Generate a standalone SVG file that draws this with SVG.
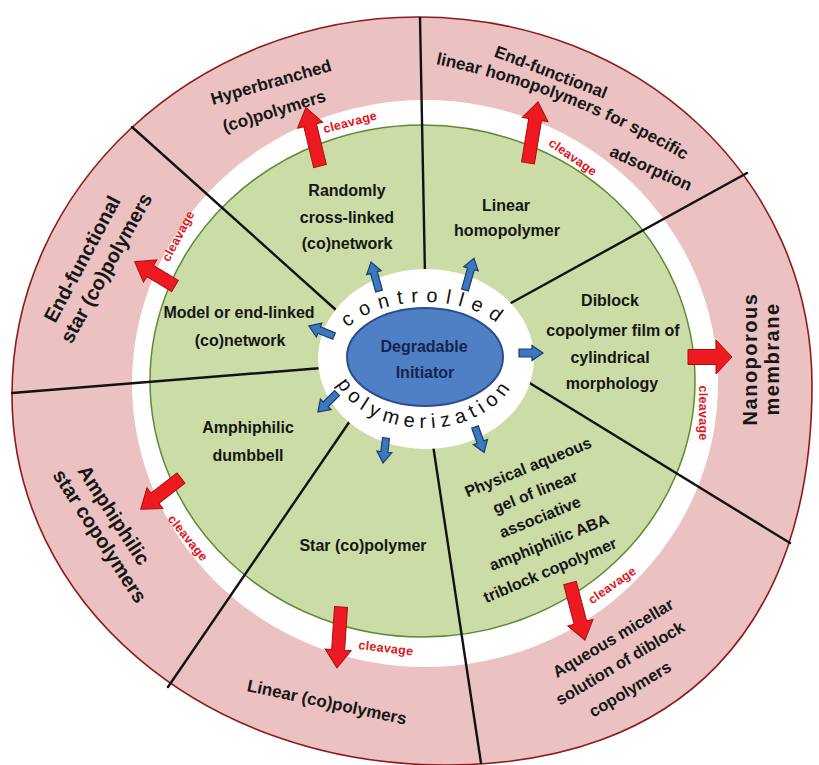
<svg xmlns="http://www.w3.org/2000/svg" width="819" height="765" viewBox="0 0 819 765">
<style>
text{font-family:"Liberation Sans",Arial,sans-serif;fill:#161616}
.lbl{font-size:16px;font-weight:bold;text-anchor:middle}
.out{font-weight:bold;text-anchor:middle}
.clv{font-size:12.5px;font-weight:bold;fill:#e3141c;text-anchor:middle;letter-spacing:0.3px}
.ring{font-size:20px;font-weight:normal;fill:#111}
.div{stroke:#121212;stroke-width:2.4;fill:none;stroke-linecap:round}
.red{fill:#ee1a22;stroke:#a80f0f;stroke-width:1}
.blue{fill:#3c78bf;stroke:#1b3c6e;stroke-width:1.2}
</style>
<defs>
<path id="topArc" d="M333,358 A92,56 0 0 1 517,358"/>
<path id="botArc" d="M330,357 A95,71 0 0 0 520,357"/>
<path id="linArc" d="M436,64 Q565,91 684,160"/>
</defs>
<rect width="819" height="765" fill="#ffffff"/>
<g id="rings">
<path d="M418,17 C639,17 812,179 812,385 C812,628 680,765 445,765 C202,765 12,602 12,395 C12,187 195,17 418,17 Z" fill="#ebc1c1" stroke="#8c1c1c" stroke-width="1.6"/>
<ellipse cx="425" cy="383.5" rx="293" ry="283.5" fill="#ffffff"/>
<ellipse cx="422.5" cy="381" rx="272.5" ry="256" fill="#cbdca6" stroke="#5e8a32" stroke-width="1.5"/>
</g>
<g id="dividers">
<line class="div" x1="420" y1="18" x2="425" y2="275"/>
<line class="div" x1="132" y1="127" x2="336" y2="310"/>
<line class="div" x1="12" y1="393" x2="322" y2="368"/>
<line class="div" x1="168" y1="687" x2="352" y2="418"/>
<line class="div" x1="481" y1="763" x2="433" y2="445"/>
<line class="div" x1="790" y1="543" x2="528" y2="382"/>
<line class="div" x1="747" y1="173" x2="511" y2="303"/>
</g>
<g id="center">
<ellipse cx="426" cy="359" rx="108" ry="90" fill="#ffffff"/>
<ellipse cx="425" cy="357" rx="78" ry="49" fill="#4f80c6" stroke="#2a4d8f" stroke-width="2"/>
<text class="lbl" x="424" y="352" style="fill:#14244e">Degradable</text>
<text class="lbl" x="425" y="378" style="fill:#14244e">Initiator</text>
<text class="ring" letter-spacing="8"><textPath href="#topArc" startOffset="50%" text-anchor="middle">controlled</textPath></text>
<text class="ring" letter-spacing="5.5"><textPath href="#botArc" startOffset="50%" text-anchor="middle">polymerization</textPath></text>
</g>
<g id="n-randomly"><text class="lbl" x="347" y="196">Randomly</text><text class="lbl" x="347" y="223">cross-linked</text><text class="lbl" x="347" y="249">(co)network</text></g>
<g id="n-linear-homo"><text class="lbl" x="506" y="211">Linear</text><text class="lbl" x="507" y="236">homopolymer</text></g>
<g id="n-model"><text class="lbl" x="239" y="318">Model or end-linked</text><text class="lbl" x="240" y="346">(co)network</text></g>
<g id="n-diblock"><text class="lbl" x="610" y="306">Diblock</text><text class="lbl" x="613" y="336">copolymer film of</text><text class="lbl" x="610" y="363">cylindrical</text><text class="lbl" x="612" y="389">morphology</text></g>
<g id="n-dumbbell"><text class="lbl" x="248" y="433">Amphiphilic</text><text class="lbl" x="248" y="461">dumbbell</text></g>
<g id="n-star"><text class="lbl" x="363" y="551">Star (co)polymer</text></g>
<g id="n-physical">
<text class="lbl" dy="0.35em" transform="translate(528,467) rotate(-22)">Physical aqueous</text>
<text class="lbl" dy="0.35em" transform="translate(535,492) rotate(-22)">gel of linear</text>
<text class="lbl" dy="0.35em" transform="translate(540,517) rotate(-22)">associative</text>
<text class="lbl" dy="0.35em" transform="translate(549,542) rotate(-22)">amphiphilic ABA</text>
<text class="lbl" dy="0.35em" transform="translate(550,570) rotate(-23)">triblock copolymer</text>
</g>
<g id="n-hyperbranched">
<text class="out" font-size="17" dy="0.35em" transform="translate(271,82) rotate(-16)">Hyperbranched</text>
<text class="out" font-size="17" dy="0.35em" transform="translate(274,111) rotate(-17)">(co)polymers</text>
</g>
<g id="n-endfunc-linear">
<text class="out" font-size="17" dy="0.35em" transform="translate(551,72) rotate(21)">End-functional</text>
<text class="out" font-size="17"><textPath href="#linArc" startOffset="50%" text-anchor="middle">linear homopolymers for specific</textPath></text>
<text class="out" font-size="17" dy="0.35em" transform="translate(651,168) rotate(24)">adsorption</text>
</g>
<g id="n-endfunc-star">
<text class="out" font-size="20" dy="0.35em" transform="translate(82,259) rotate(-62)">End-functional</text>
<text class="out" font-size="20" dy="0.35em" transform="translate(106,268) rotate(-61)">star (co)polymers</text>
</g>
<g id="n-nanoporous">
<text class="out" font-size="20" letter-spacing="1.5" dy="0.35em" transform="translate(750,359) rotate(-90)">Nanoporous</text>
<text class="out" font-size="20" letter-spacing="1.5" dy="0.35em" transform="translate(772,359) rotate(-90)">membrane</text>
</g>
<g id="n-amph-star">
<text class="out" font-size="20" dy="0.35em" transform="translate(114,515) rotate(57)">Amphiphilic</text>
<text class="out" font-size="20" dy="0.35em" transform="translate(100,536) rotate(57)">star copolymers</text>
</g>
<g id="n-linear-co">
<text class="out" font-size="17" dy="0.35em" transform="translate(327,702) rotate(12)">Linear (co)polymers</text>
</g>
<g id="n-aqueous">
<text class="out" font-size="16.5" dy="0.35em" transform="translate(613,638) rotate(-31)">Aqueous micellar</text>
<text class="out" font-size="16.5" dy="0.35em" transform="translate(620,663) rotate(-31)">solution of diblock</text>
<text class="out" font-size="16.5" dy="0.35em" transform="translate(630,689) rotate(-31)">copolymers</text>
</g>
<g id="connectors">
<g id="red-arrows">
<path class="red" transform="translate(320,166) rotate(-103.6)" d="M0,-6.5H42V-13L60,0L42,13V6.5H0Z"/>
<path class="red" transform="translate(528,163) rotate(-80.7)" d="M0,-6.5H44V-13L62,0L44,13V6.5H0Z"/>
<path class="red" transform="translate(175,286) rotate(-149)" d="M0,-6.5H29V-13L47,0L29,13V6.5H0Z"/>
<path class="red" transform="translate(688,357) rotate(0)" d="M0,-7.5H28V-17L44,0L28,17V7.5H0Z"/>
<path class="red" transform="translate(181,478) rotate(142.2)" d="M0,-6.5H33V-13L51,0L33,13V6.5H0Z"/>
<path class="red" transform="translate(341,607) rotate(93.8)" d="M0,-6.5H43V-13L61,0L43,13V6.5H0Z"/>
<path class="red" transform="translate(570,583) rotate(75.3)" d="M0,-6.5H41V-13L59,0L41,13V6.5H0Z"/>
</g>
<g id="cleavage-labels">
<text class="clv" dy="0.35em" transform="translate(350,122) rotate(-15)">cleavage</text>
<text class="clv" dy="0.35em" transform="translate(573,157) rotate(35)">cleavage</text>
<text class="clv" dy="0.35em" transform="translate(178,236) rotate(-62)">cleavage</text>
<text class="clv" dy="0.35em" transform="translate(703,413) rotate(90)">cleavage</text>
<text class="clv" dy="0.35em" transform="translate(188,538) rotate(51)">cleavage</text>
<text class="clv" dy="0.35em" transform="translate(386,648) rotate(7)">cleavage</text>
<text class="clv" dy="0.35em" transform="translate(612,585) rotate(-35)">cleavage</text>
</g>
<g id="blue-arrows">
<path class="blue" transform="translate(379,291) rotate(-105.4)" d="M0,-3.5H19V-7.5L30,0L19,7.5V3.5H0Z"/>
<path class="blue" transform="translate(465,290) rotate(-74.3)" d="M0,-3.5H22V-7.5L33,0L22,7.5V3.5H0Z"/>
<path class="blue" transform="translate(334,336) rotate(-158.2)" d="M0,-3.5H16V-7.5L27,0L16,7.5V3.5H0Z"/>
<path class="blue" transform="translate(519,353) rotate(0)" d="M0,-4H13V-7.5L24,0L13,7.5V4H0Z"/>
<path class="blue" transform="translate(337,393) rotate(135)" d="M0,-3.5H16V-7.5L27,0L16,7.5V3.5H0Z"/>
<path class="blue" transform="translate(386,438) rotate(96.8)" d="M0,-3.5H14V-7.5L25,0L14,7.5V3.5H0Z"/>
<path class="blue" transform="translate(475,427) rotate(70.2)" d="M0,-3.5H16V-7.5L27,0L16,7.5V3.5H0Z"/>
</g>
</g>
</svg>
